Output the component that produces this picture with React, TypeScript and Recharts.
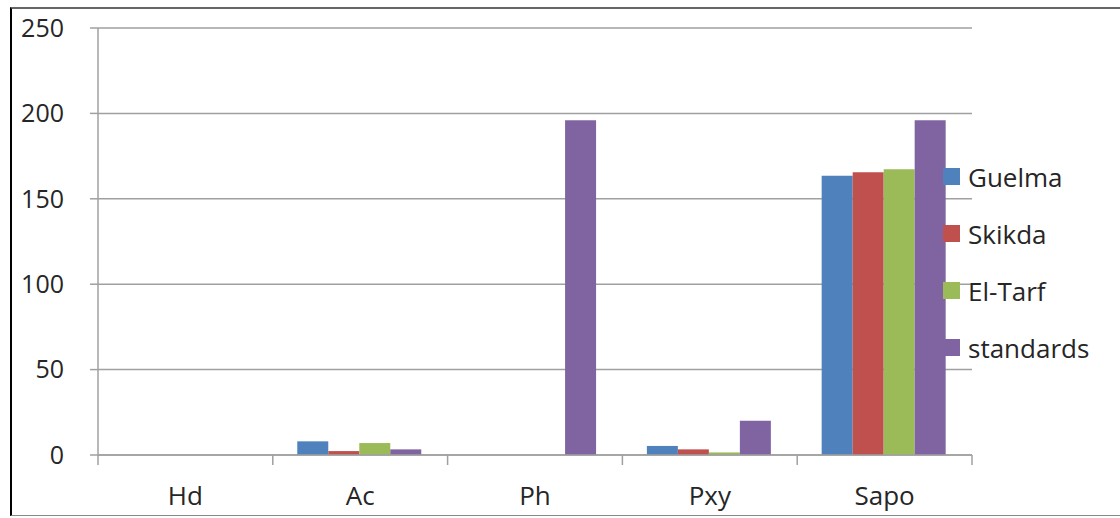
import React from "react";
import {
  Bar,
  BarChart,
  CartesianGrid,
  XAxis,
  YAxis,
} from "recharts";

const categories = ["Hd", "Ac", "Ph", "Pxy", "Sapo"];
const guelma = [0, 8, 0, 5.3, 163.5];
const skikda = [0, 2.3, 0, 3.3, 165.5];
const elTarf = [0, 7, 0, 1.5, 167.3];
const standards = [0, 3.3, 196, 20, 196];
const yTicks = [0, 50, 100, 150, 200, 250];

const seriesNames = ["Guelma", "Skikda", "El-Tarf", "standards"];
const colors = ["#4F81BD", "#C0504D", "#9BBB59", "#8064A2"];

const data = categories.map((c, i) => ({
  name: c,
  Guelma: guelma[i],
  Skikda: skikda[i],
  "El-Tarf": elTarf[i],
  standards: standards[i],
}));

const FONT = "'Open Sans', sans-serif";
const AXIS = "#a0a0a0";
const TEXT = "#262626";

function CategoryTick(props: any) {
  const { x, y, payload, index, width, visibleTicksCount } = props;
  const bw = width / visibleTicksCount;
  const last = index === visibleTicksCount - 1;
  return (
    <g>
      <line x1={x - bw / 2} y1={y} x2={x - bw / 2} y2={y + 10} stroke={AXIS} strokeWidth={1.5} />
      {last && (
        <line x1={x + bw / 2} y1={y} x2={x + bw / 2} y2={y + 10} stroke={AXIS} strokeWidth={1.5} />
      )}
      <text x={x} y={y + 50} textAnchor="middle" fill={TEXT} fontSize={26} fontFamily={FONT}>
        {payload.value}
      </text>
    </g>
  );
}

// legend drawn beside the plot, overlapping the last bar like the original
function SideLegend() {
  return (
    <div
      style={{
        position: "absolute",
        left: 943,
        top: 148,
        fontFamily: FONT,
        fontSize: 26,
        color: TEXT,
      }}
    >
      {seriesNames.map((n, i) => (
        <div key={n} style={{ display: "flex", alignItems: "center", height: 57 }}>
          <span
            style={{
              width: 17,
              height: 17,
              background: colors[i],
              display: "inline-block",
              marginRight: 8,
            }}
          />
          <span>{n}</span>
        </div>
      ))}
    </div>
  );
}

export default function App() {
  return (
    <div style={{ position: "absolute", left: 0, top: 0, width: 1120, height: 518, background: "#fff" }}>
      <div
        style={{
          position: "absolute",
          left: 10,
          top: 7,
          width: 1120,
          height: 509,
          borderLeft: "2px solid #000",
          borderTop: "2px solid #666",
          borderBottom: "1px solid #888",
          boxSizing: "border-box",
        }}
      />
      <BarChart
        width={1120}
        height={518}
        data={data}
        margin={{ top: 28, right: 148, bottom: 13, left: 0 }}
        barCategoryGap="14%"
        barGap={0}
        style={{ position: "absolute", left: 0, top: 0 }}
      >
        <CartesianGrid vertical={false} stroke={AXIS} strokeWidth={1.5} />
        <XAxis
          dataKey="name"
          height={50}
          tickSize={0}
          tickMargin={0}
          tickLine={false}
          axisLine={{ stroke: AXIS, strokeWidth: 1.5 }}
          tick={<CategoryTick />}
          interval={0}
        />
        <YAxis
          width={98}
          domain={[0, 250]}
          ticks={yTicks}
          tickSize={8}
          tickMargin={26}
          axisLine={{ stroke: AXIS, strokeWidth: 1.5 }}
          tickLine={{ stroke: AXIS, strokeWidth: 1.5 }}
          tick={{ fill: TEXT, fontSize: 25, fontFamily: FONT }}
        />
        {seriesNames.map((n, i) => (
          <Bar key={n} dataKey={n} fill={colors[i]} isAnimationActive={false} />
        ))}
      </BarChart>
      <SideLegend />
    </div>
  );
}
